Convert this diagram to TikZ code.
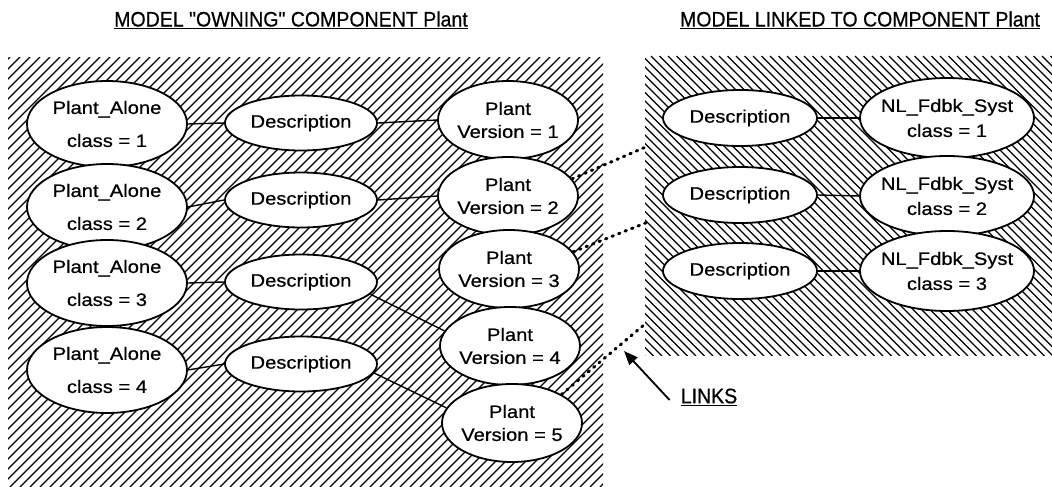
\documentclass[tikz,border=0pt]{standalone}
\usepackage{fontspec}
\newfontfamily\nodefont[FakeStretch=1.12,FakeBold=0.6]{Liberation Sans}
\newfontfamily\titlefont[FakeStretch=0.93,FakeBold=0.6]{Liberation Sans}
\usetikzlibrary{shapes.geometric,arrows.meta}
\tikzset{
  ell/.style={ellipse, draw, line width=1.8pt, fill=white, inner xsep=-12pt, inner ysep=0pt,
    align=center, font=\nodefont\fontsize{18}{23}\selectfont},
  pa/.style={ell, minimum width=160pt, minimum height=86pt},
  desc/.style={ell, minimum width=152pt, minimum height=55pt},
  pv/.style={ell, minimum width=140pt, minimum height=78pt},
  nl/.style={ell, minimum width=174pt, minimum height=80pt, font=\nodefont\fontsize{18}{25}\selectfont},
  conn/.style={line width=1.4pt},
  hatch/.style={line width=1.1pt},
  link/.style={line width=3pt, dash pattern=on 1.5pt off 5.5pt, line cap=round},
  title/.style={inner sep=0pt, font=\titlefont\fontsize{21}{25}\selectfont},
}
\begin{document}
\begin{tikzpicture}[x=1pt,y=-1pt]
\useasboundingbox (0,0) rectangle (1052,487);
\fill[white] (0,0) rectangle (1052,487);
% hatched regions
\begin{scope}
  \clip (8,58) rectangle (603,487);
  \foreach \x in {-430,-420,...,603} \draw[hatch] (\x,487) -- ++(430,-430);
\end{scope}
\begin{scope}
  \clip (645,56) rectangle (1052,355);
  \foreach \x in {345,353.5,...,1052} \draw[hatch] (\x,56) -- ++(300,300);
\end{scope}
% titles
\node[title] (t1) at (291,20) {\underline{MODEL "OWNING" COMPONENT Plant}};
\node[title] (t2) at (860,20) {\underline{MODEL LINKED TO COMPONENT Plant}};
% left nodes
\node[pa] (A1) at (107,124) {Plant\_Alone\\[10pt]class = 1};
\node[pa] (A2) at (107,207) {Plant\_Alone\\[10pt]class = 2};
\node[pa] (A3) at (107,283) {Plant\_Alone\\[10pt]class = 3};
\node[pa] (A4) at (107,370) {Plant\_Alone\\[10pt]class = 4};
\node[desc] (D1) at (301,123) {Description};
\node[desc] (D2) at (301,200) {Description};
\node[desc] (D3) at (301,282) {Description};
\node[desc] (D4) at (301,364) {Description};
\node[pv] (V1) at (508,120) {Plant\\Version = 1};
\node[pv] (V2) at (508,196) {Plant\\Version = 2};
\node[pv] (V3) at (509,269) {Plant\\Version = 3};
\node[pv] (V4) at (510,346) {Plant\\Version = 4};
\node[pv] (V5) at (512,423) {Plant\\Version = 5};
% right nodes
\node[desc, minimum width=154pt, minimum height=56pt] (R1) at (740,118) {Description};
\node[desc, minimum width=154pt, minimum height=56pt] (R2) at (740,195) {Description};
\node[desc, minimum width=154pt, minimum height=56pt] (R3) at (740,271) {Description};
\node[nl] (N1) at (947,118) {NL\_Fdbk\_Syst\\class = 1};
\node[nl] (N2) at (947,196) {NL\_Fdbk\_Syst\\class = 2};
\node[nl] (N3) at (947,271) {NL\_Fdbk\_Syst\\class = 3};
% connectors
\draw[conn] (A1.east) -- (D1.west);
\draw[conn] (A2.east) -- (D2.west);
\draw[conn] (A3.east) -- (D3.west);
\draw[conn] (A4.east) -- (D4.west);
\draw[conn] (D1.east) -- (V1.west);
\draw[conn] (D2.east) -- (V2.west);
\draw[conn] (D3.-10) -- (V4.167);
\draw[conn] (D4.-7) -- (V5.167);
\draw[conn] (R1.east) -- (N1.west);
\draw[conn] (R2.east) -- (N2.west);
\draw[conn] (R3.east) -- (N3.west);
% links
\coordinate (l1) at (648,146);
\coordinate (l2) at (648,222);
\coordinate (l3) at (645,324);
\draw[link] (V2.15) -- (l1);
\draw[link] (V3.15) -- (l2);
\draw[link] (V5.30) -- (l3);
\node[title] (links) at (709,397) {\underline{LINKS}};
\coordinate (tip) at (624,351);
\draw[line width=1.8pt, -{Triangle[length=14pt,width=11pt]}] ([xshift=-11pt,yshift=-3pt]links.west) -- (tip);
\end{tikzpicture}
\end{document}
